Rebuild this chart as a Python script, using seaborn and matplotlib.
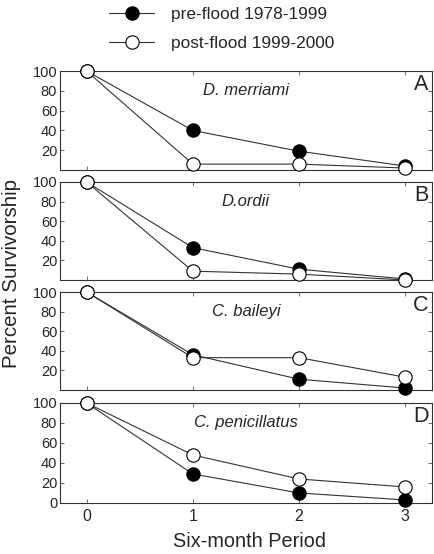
import numpy as np
import seaborn as sns
import matplotlib.pyplot as plt
from matplotlib.lines import Line2D

# survivorship values (percent), six-month periods 0..3
periods = [0, 1, 2, 3]
species = ["D. merriami", "D.ordii", "C. baileyi", "C. penicillatus"]
panel_letters = ["A", "B", "C", "D"]
pre_flood = [
    [100, 40, 19, 4],
    [100, 33, 11, 1],
    [100, 36, 11, 2],
    [100, 29, 10, 3],
]
post_flood = [
    [100, 6, 6, 2],
    [100, 9, 6, 0],
    [100, 33, 33, 13],
    [100, 48, 24, 16],
]
legend_labels = ["pre-flood 1978-1999", "post-flood 1999-2000"]

sns.set_style("ticks")
plt.rcParams["font.family"] = ["Liberation Sans", "DejaVu Sans"]

fig = plt.figure(figsize=(4.34, 5.54), dpi=100)

# panel boxes in figure fractions (left, bottom, width, height)
boxes = [
    (0.1382, 0.6931, 0.8571, 0.1787),
    (0.1382, 0.4946, 0.8571, 0.1769),
    (0.1382, 0.2960, 0.8571, 0.1769),
    (0.1382, 0.0921, 0.8571, 0.1805),
]

mk = dict(marker="o", markersize=9.6, markeredgecolor="black",
          markeredgewidth=0.8, linewidth=0.8, clip_on=False)

for i, box in enumerate(boxes):
    ax = fig.add_axes(box)
    sns.lineplot(x=periods, y=pre_flood[i], ax=ax, color="#333333",
                 markerfacecolor="black", zorder=3, **mk)
    sns.lineplot(x=periods, y=post_flood[i], ax=ax, color="#333333",
                 markerfacecolor="white", zorder=4, **mk)
    ax.set_xlim(-0.25, 3.25)
    ax.set_ylim(0, 100)
    ax.set_xticks(periods)
    if i == 3:
        ax.set_yticks([0, 20, 40, 60, 80, 100])
    else:
        ax.set_yticks([20, 40, 60, 80, 100])
    ax.tick_params(direction="in", length=3, width=0.6, top=True, right=True,
                   labelbottom=(i == 3), pad=2, color="#555555")
    ax.tick_params(axis="y", labelsize=10.5)
    ax.tick_params(axis="x", labelsize=11.5, pad=4)
    for s in ax.spines.values():
        s.set_linewidth(0.8)
        s.set_color("#333333")
    ax.set_xlabel("")
    ax.set_ylabel("")
    ax.text(1.5, 80, species[i], style="italic", fontsize=12,
            ha="center", va="center")
    ax.text(3.22, 86, panel_letters[i], fontsize=15.5, ha="right", va="center")

fig.text(0.574, 0.023, "Six-month Period", fontsize=14.3, ha="center", va="center")
fig.text(0.027, 0.507, "Percent Survivorship", fontsize=14.8, rotation=90,
         ha="center", va="center")

handles = [
    Line2D([], [], color="#333333", linewidth=0.8, marker="o", markersize=9.6,
           markerfacecolor="black", markeredgecolor="black", markeredgewidth=0.8),
    Line2D([], [], color="#333333", linewidth=0.8, marker="o", markersize=9.6,
           markerfacecolor="white", markeredgecolor="black", markeredgewidth=0.8),
]
fig.legend(handles, legend_labels, loc="upper left", bbox_to_anchor=(0.224, 1.01),
           frameon=False, fontsize=12.4, handlelength=2.6, handletextpad=1.0,
           labelspacing=0.85, borderpad=0.2)

fig.savefig("out.png", dpi=100)
